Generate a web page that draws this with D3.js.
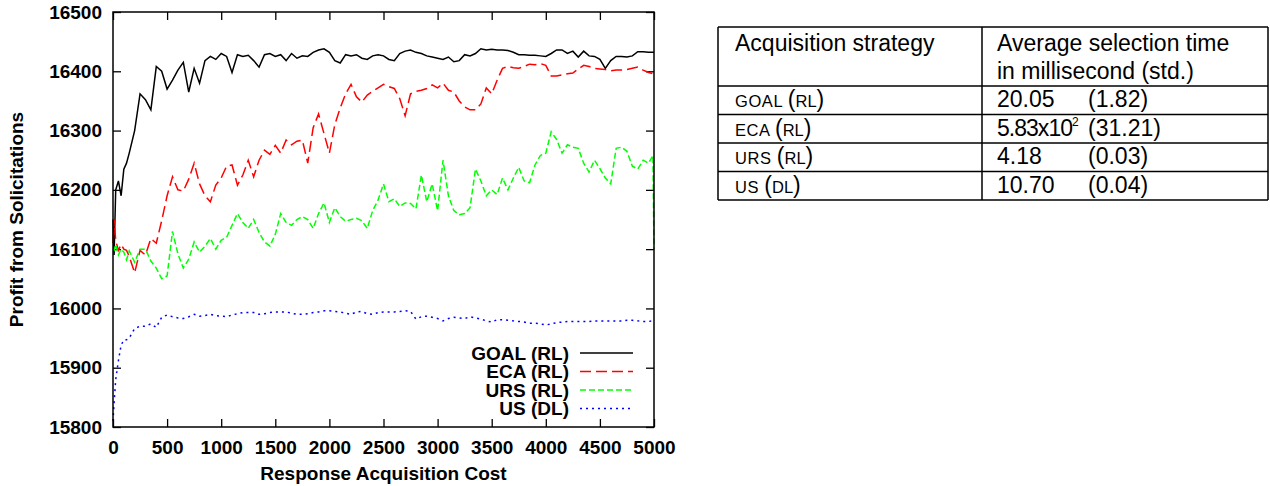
<!DOCTYPE html>
<html>
<head>
<meta charset="utf-8">
<script src="https://cdn.jsdelivr.net/npm/d3@7"></script>
<style>
  body { margin: 0; background: #fff; }
  svg { display: block; font-family: "Liberation Sans", Arial, sans-serif; }
</style>
</head>
<body>
<div id="chart"></div>
<script>
// x values (response acquisition cost) shared by all four curves
const costs = [
  0, 10, 25, 50, 75, 100, 125, 150, 200, 250,
  300, 350, 400, 450, 500, 550, 600, 650, 700, 750,
  800, 850, 900, 950, 1000, 1050, 1100, 1150, 1200, 1250,
  1300, 1350, 1400, 1450, 1500, 1550, 1600, 1650, 1700, 1750,
  1800, 1850, 1900, 1950, 2000, 2050, 2100, 2150, 2200, 2250,
  2300, 2350, 2400, 2450, 2500, 2550, 2600, 2650, 2700, 2750,
  2800, 2850, 2900, 2950, 3000, 3050, 3100, 3150, 3200, 3250,
  3300, 3350, 3400, 3450, 3500, 3550, 3600, 3650, 3700, 3750,
  3800, 3850, 3900, 3950, 4000, 4050, 4100, 4150, 4200, 4250,
  4300, 4350, 4400, 4450, 4500, 4550, 4600, 4650, 4700, 4750,
  4800, 4850, 4900, 4950, 4990, 5000
];

// profit from solicitations, one array per strategy
const goal = [
  16150, 16090, 16200, 16215, 16190, 16235, 16245, 16262, 16300, 16362,
  16352, 16335, 16408, 16400, 16370, 16385, 16402, 16415, 16365, 16405,
  16380, 16418, 16425, 16420, 16430, 16425, 16398, 16428, 16425, 16427,
  16418, 16407, 16428, 16430, 16425, 16428, 16418, 16430, 16422, 16426,
  16425, 16432, 16436, 16438, 16432, 16418, 16414, 16428, 16426, 16428,
  16422, 16420, 16426, 16428, 16426, 16420, 16418, 16430, 16434, 16436,
  16432, 16430, 16426, 16424, 16422, 16420, 16424, 16416, 16418, 16428,
  16426, 16430, 16438, 16436, 16437, 16436, 16436, 16435, 16432, 16428,
  16428, 16427, 16427, 16426, 16425, 16430, 16436, 16436, 16430, 16434,
  16424, 16434, 16426, 16425, 16420, 16405, 16418, 16425, 16425, 16424,
  16426, 16433, 16433, 16432, 16432, 16432
];
const eca = [
  16110, 16150, 16115, 16098, 16108, 16100, 16098, 16088, 16060, 16098,
  16090, 16118, 16110, 16148, 16190, 16222, 16200, 16198, 16218, 16245,
  16210, 16190, 16180, 16208, 16220, 16240, 16242, 16208, 16225, 16250,
  16222, 16250, 16267, 16260, 16275, 16262, 16284, 16276, 16282, 16284,
  16245, 16305, 16328, 16295, 16262, 16310, 16338, 16362, 16378, 16357,
  16348, 16360, 16366, 16372, 16378, 16374, 16371, 16354, 16325, 16362,
  16366, 16368, 16371, 16377, 16372, 16380, 16368, 16365, 16350, 16340,
  16335, 16335, 16345, 16372, 16362, 16385, 16405, 16408, 16406, 16405,
  16408, 16412, 16411, 16413, 16410, 16392, 16392, 16394, 16396, 16397,
  16404, 16410, 16408, 16405, 16404, 16403, 16401, 16402, 16402, 16403,
  16405, 16407, 16402, 16398, 16396, 16396
];
const urs = [
  16100, 16098, 16108, 16090, 16100, 16095, 16082, 16097, 16078, 16100,
  16100, 16080, 16068, 16050, 16055, 16130, 16092, 16068, 16083, 16112,
  16095, 16105, 16118, 16100, 16115, 16120, 16140, 16160, 16145, 16135,
  16150, 16128, 16112, 16105, 16125, 16160, 16145, 16140, 16150, 16155,
  16150, 16135, 16160, 16178, 16145, 16170, 16155, 16147, 16150, 16152,
  16148, 16135, 16165, 16183, 16210, 16180, 16185, 16172, 16178, 16177,
  16168, 16225, 16180, 16210, 16165, 16250, 16190, 16165, 16158, 16160,
  16170, 16235, 16215, 16190, 16200, 16192, 16220, 16200, 16220, 16238,
  16215, 16212, 16242, 16258, 16262, 16298, 16285, 16262, 16276, 16272,
  16270, 16245, 16230, 16250, 16236, 16220, 16210, 16270, 16272, 16265,
  16240, 16235, 16250, 16245, 16258, 16100
];
const us = [
  15810, 15840, 15880, 15912, 15938, 15947, 15947, 15950, 15966, 15970,
  15970, 15974, 15968, 15985, 15989, 15986, 15984, 15983, 15986, 15990,
  15987, 15988, 15990, 15988, 15987, 15986, 15989, 15991, 15993, 15993,
  15993, 15990, 15991, 15993, 15994, 15994, 15994, 15992, 15990, 15990,
  15991, 15993, 15994, 15996, 15996, 15995, 15994, 15992, 15990, 15994,
  15995, 15991, 15990, 15993, 15994, 15994, 15994, 15995, 15996, 15995,
  15982, 15986, 15987, 15985, 15983, 15979, 15983, 15985, 15984, 15983,
  15986, 15984, 15982, 15979, 15977, 15981, 15981, 15980, 15979, 15978,
  15977, 15975, 15975, 15974, 15972, 15974, 15976, 15977, 15978, 15978,
  15978, 15978, 15978, 15979, 15979, 15979, 15979, 15979, 15979, 15980,
  15980, 15979, 15978, 15978, 15979, 15979
];

const seriesNames = ["GOAL (RL)", "ECA (RL)", "URS (RL)", "US (DL)"];
const xTicks = [0, 500, 1000, 1500, 2000, 2500, 3000, 3500, 4000, 4500, 5000];
const yTicks = [15800, 15900, 16000, 16100, 16200, 16300, 16400, 16500];

// table next to the chart
const tableHead = ["Acquisition strategy", "Average selection time", "in millisecond (std.)"];
const stratNames = ["GOAL", "ECA", "URS", "US"];
const stratTypes = ["RL", "RL", "RL", "DL"];
const timeMeans = ["20.05", "5.83x10", "4.18", "10.70"];
const timeSup = ["", "2", "", ""];
const timeStds = ["(1.82)", "(31.21)", "(0.03)", "(0.04)"];

const width = 1270, height = 486;
const plot = { left: 113, right: 654, top: 12, bottom: 427 };

const svg = d3.select("#chart")
  .append("svg")
  .attr("width", width)
  .attr("height", height);

svg.append("rect").attr("width", width).attr("height", height).attr("fill", "#fff");

const xScale = d3.scaleLinear().domain([0, 5000]).range([plot.left, plot.right]);
const yScale = d3.scaleLinear().domain([15800, 16500]).range([plot.bottom, plot.top]);

// axes - gnuplot style ticks pointing inwards on all four sides
const tickLen = 8;
const plain = d3.format("d");
const styleAxis = (g) => {
  g.attr("font-size", 19)
   .attr("font-weight", "bold")
   .attr("font-family", "'Liberation Sans', Arial, sans-serif");
  g.select(".domain").remove();
  g.selectAll("line").attr("stroke", "#000").attr("stroke-width", 1.3);
  g.selectAll("text").attr("fill", "#000");
};

svg.append("g")
  .attr("transform", `translate(0,${plot.bottom})`)
  .call(d3.axisBottom(xScale).tickValues(xTicks).tickFormat(plain)
    .tickSizeInner(-tickLen).tickSizeOuter(0).tickPadding(14))
  .call(styleAxis);

svg.append("g")
  .attr("transform", `translate(0,${plot.top})`)
  .call(d3.axisTop(xScale).tickValues(xTicks).tickSizeInner(-tickLen).tickSizeOuter(0).tickFormat(""))
  .call(styleAxis);

svg.append("g")
  .attr("transform", `translate(${plot.left},0)`)
  .call(d3.axisLeft(yScale).tickValues(yTicks).tickFormat(plain)
    .tickSizeInner(-tickLen).tickSizeOuter(0).tickPadding(11))
  .call(styleAxis);

svg.append("g")
  .attr("transform", `translate(${plot.right},0)`)
  .call(d3.axisRight(yScale).tickValues(yTicks).tickSizeInner(-tickLen).tickSizeOuter(0).tickFormat(""))
  .call(styleAxis);

// axis titles
svg.append("text")
  .attr("x", (plot.left + plot.right) / 2)
  .attr("y", 480)
  .attr("text-anchor", "middle")
  .attr("font-size", 19)
  .attr("font-weight", "bold")
  .text("Response Acquisition Cost");

svg.append("text")
  .attr("transform", `translate(23,${(plot.top + plot.bottom) / 2}) rotate(-90)`)
  .attr("text-anchor", "middle")
  .attr("font-size", 19)
  .attr("font-weight", "bold")
  .text("Profit from Solicitations");

// the four curves
const series = [goal, eca, urs, us];
const colors = ["#000000", "#ff0000", "#00ff00", "#0000ff"];
const dashes = [null, "11,5", "6,3", "2,4"];

const line = d3.line()
  .x((d, i) => xScale(costs[i]))
  .y((d) => yScale(d));

series.forEach((s, k) => {
  svg.append("path")
    .datum(s)
    .attr("d", line)
    .attr("fill", "none")
    .attr("stroke", colors[k])
    .attr("stroke-width", 1.5)
    .attr("stroke-dasharray", dashes[k]);
});

// plot border
svg.append("rect")
  .attr("x", plot.left)
  .attr("y", plot.top)
  .attr("width", plot.right - plot.left)
  .attr("height", plot.bottom - plot.top)
  .attr("fill", "none")
  .attr("stroke", "#000")
  .attr("stroke-width", 1.5);

// legend, bottom right inside the plot
const legend = svg.append("g").attr("font-size", 19).attr("font-weight", "bold");
seriesNames.forEach((name, k) => {
  const ly = 353 + k * 18.5;
  legend.append("text")
    .attr("x", 569)
    .attr("y", ly)
    .attr("dy", "0.35em")
    .attr("text-anchor", "end")
    .text(name);
  legend.append("line")
    .attr("x1", 580).attr("x2", 633)
    .attr("y1", ly).attr("y2", ly)
    .attr("stroke", colors[k])
    .attr("stroke-width", 1.5)
    .attr("stroke-dasharray", dashes[k]);
});

// table
const tb = { left: 718, mid: 982, right: 1268, top: 27, head: 86, row: 28.5 };
const table = svg.append("g").attr("font-size", 23);
const hLines = [tb.top, tb.head];
stratNames.forEach((n, i) => hLines.push(tb.head + (i + 1) * tb.row));
const tBottom = hLines[hLines.length - 1];

table.selectAll("line.h")
  .data(hLines)
  .enter()
  .append("line")
    .attr("x1", tb.left).attr("x2", tb.right)
    .attr("y1", (d) => d).attr("y2", (d) => d)
    .attr("stroke", "#000").attr("stroke-width", 1.5);

table.selectAll("line.v")
  .data([tb.left, tb.mid, tb.right])
  .enter()
  .append("line")
    .attr("x1", (d) => d).attr("x2", (d) => d)
    .attr("y1", tb.top).attr("y2", tBottom)
    .attr("stroke", "#000").attr("stroke-width", 1.5);

table.append("text").attr("x", 735).attr("y", 51).text(tableHead[0]);
table.append("text").attr("x", 997).attr("y", 51).text(tableHead[1]);
table.append("text").attr("x", 997).attr("y", 79).text(tableHead[2]);

stratNames.forEach((n, i) => {
  const by = tb.head + i * tb.row + 21;
  const t = table.append("text").attr("x", 735).attr("y", by);
  t.append("tspan").attr("font-size", 16.5).attr("letter-spacing", 0.6).text(n + " ");
  t.append("tspan").text("(");
  t.append("tspan").attr("font-size", 16.5).text(stratTypes[i]);
  t.append("tspan").text(")");

  const m = table.append("text").attr("x", 997).attr("y", by);
  m.append("tspan").attr("textLength", timeSup[i] ? 76 : null).text(timeMeans[i]);
  if (timeSup[i]) {
    m.append("tspan").attr("font-size", 12).attr("dy", -10).text(timeSup[i]);
  }
  table.append("text").attr("x", 1088).attr("y", by).text(timeStds[i]);
});
</script>
</body>
</html>
